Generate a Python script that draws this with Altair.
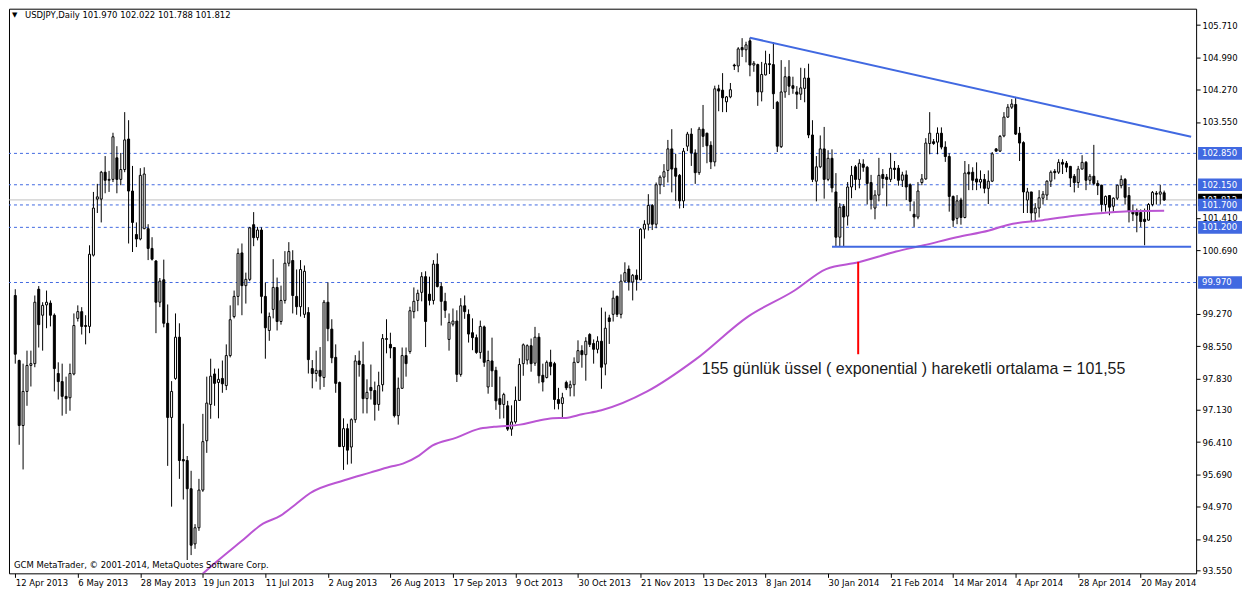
import altair as alt
import pandas as pd

# ---------------- data ----------------
opens = [
    99.68, 98.23, 96.78, 97.54, 98.12, 98.16, 99.82, 99.24, 99.47, 99.51,
    99.24, 97.94, 97.76, 97.43, 97.40, 97.93, 99.17, 99.32, 99.01, 98.99,
    100.58, 101.83, 101.83, 102.43, 102.25, 102.27, 102.75, 102.27, 102.49, 103.17,
    102.01, 101.04, 100.94, 101.17, 101.17, 100.73, 100.45, 99.53, 100.03, 99.06,
    96.96, 97.83, 98.75, 96.02, 96.00, 95.37, 94.14, 94.50, 95.34, 96.44,
    97.25, 97.93, 97.74, 97.83, 97.67, 98.34, 99.21, 99.66, 100.63, 99.90,
    100.04, 101.26, 100.97, 101.14, 99.66, 98.90, 99.37, 99.86, 99.10, 99.57,
    100.40, 100.46, 99.66, 99.43, 99.26, 99.30, 98.05, 97.94, 98.01, 97.85,
    99.53, 98.93, 98.30, 97.74, 96.31, 96.71, 96.30, 96.91, 98.22, 98.14,
    97.38, 97.63, 97.56, 97.25, 97.69, 98.70, 98.59, 98.52, 97.00, 97.61,
    98.34, 98.43, 99.32, 99.57, 99.75, 100.10, 99.71, 99.57, 100.38, 99.88,
    99.55, 98.70, 99.04, 99.11, 97.92, 99.45, 99.26, 98.85, 98.74, 98.41,
    98.98, 97.64, 98.22, 98.01, 97.38, 97.25, 97.22, 96.70, 96.86, 97.34,
    98.16, 98.24, 98.56, 98.17, 98.75, 97.90, 97.85, 98.19, 98.16, 97.36,
    97.27, 97.74, 97.62, 97.69, 98.19, 98.45, 98.36, 98.81, 98.61, 98.48,
    98.66, 98.15, 99.18, 99.26, 99.66, 99.26, 100.00, 100.27, 99.98, 100.13,
    100.03, 101.16, 101.27, 101.69, 101.27, 102.15, 102.32, 102.47, 102.95, 102.52,
    102.36, 101.79, 103.01, 103.28, 102.86, 102.42, 103.39, 103.30, 103.03, 102.66,
    104.29, 104.26, 104.00, 104.11, 104.82, 104.80, 105.21, 105.16, 105.36, 104.82,
    104.83, 104.22, 104.60, 104.85, 104.83, 103.99, 103.00, 104.22, 104.56, 104.36,
    104.22, 104.17, 104.30, 104.53, 103.26, 102.23, 102.55, 102.95, 102.27, 102.74,
    101.99, 100.98, 101.67, 101.45, 102.10, 102.55, 102.27, 102.61, 102.54, 102.20,
    101.63, 101.92, 102.38, 102.32, 102.27, 102.52, 102.52, 102.25, 102.37, 102.15,
    101.49, 101.43, 102.20, 102.28, 103.07, 103.11, 103.10, 103.30, 102.99, 102.78,
    101.89, 101.40, 101.81, 101.42, 102.43, 102.43, 102.28, 102.21, 102.27, 102.07,
    102.23, 102.95, 102.90, 103.24, 103.66, 103.88, 103.94, 103.30, 103.09, 101.81,
    101.99, 101.52, 101.63, 101.85, 101.92, 102.23, 102.45, 102.43, 102.65, 102.63,
    102.56, 102.34, 102.20, 102.50, 102.65, 102.25, 102.34, 102.18, 102.14, 101.71,
    101.91, 101.67, 101.85, 102.13, 102.27, 101.91, 101.56, 101.56, 101.53, 101.38,
    101.36, 101.71, 101.96, 101.94, 101.97,
]
highs = [
    99.82, 98.25, 98.16, 98.45, 98.45, 99.68, 99.89, 99.53, 99.79, 99.57,
    99.28, 98.19, 98.16, 97.87, 98.16, 99.28, 99.46, 99.42, 99.24, 100.80,
    101.99, 102.17, 102.46, 102.79, 102.46, 103.31, 103.01, 102.86, 103.77, 103.59,
    102.57, 101.31, 102.52, 102.54, 101.27, 100.98, 100.47, 100.07, 100.48, 99.48,
    97.77, 99.28, 99.06, 96.82, 96.10, 95.77, 94.58, 95.59, 97.04, 97.87,
    98.27, 98.05, 98.05, 98.23, 98.59, 99.46, 99.79, 100.73, 100.84, 100.19,
    101.21, 101.54, 101.21, 101.20, 99.97, 99.30, 100.49, 100.08, 99.90, 100.67,
    100.87, 100.69, 100.26, 100.47, 100.35, 99.42, 98.24, 98.45, 98.53, 99.58,
    99.97, 99.15, 98.59, 97.76, 96.94, 96.82, 96.94, 98.35, 98.45, 98.65,
    97.81, 98.14, 97.76, 97.98, 98.82, 99.15, 98.85, 98.53, 97.85, 98.52,
    98.52, 99.43, 99.86, 99.81, 100.20, 100.22, 100.10, 100.47, 100.62, 99.97,
    99.74, 99.28, 99.39, 99.35, 99.62, 99.68, 99.37, 99.17, 98.81, 99.12,
    99.01, 98.45, 98.74, 98.09, 97.87, 97.51, 97.33, 97.23, 97.65, 98.28,
    98.61, 98.59, 98.72, 98.98, 98.84, 98.16, 98.23, 98.47, 98.20, 97.62,
    97.51, 97.78, 97.78, 98.30, 98.68, 98.57, 98.75, 98.84, 98.70, 98.77,
    99.41, 99.32, 99.25, 99.79, 99.68, 100.15, 100.42, 100.35, 100.16, 100.26,
    101.18, 101.36, 101.94, 101.72, 102.20, 102.36, 102.61, 103.15, 103.39, 102.84,
    102.39, 102.97, 103.33, 103.41, 102.94, 103.44, 103.93, 103.31, 103.12, 104.36,
    104.38, 104.64, 104.13, 104.42, 104.85, 105.22, 105.42, 105.34, 105.43, 104.91,
    104.85, 104.89, 105.14, 105.07, 105.33, 104.02, 104.93, 104.78, 104.93, 104.56,
    104.35, 104.76, 104.75, 104.85, 103.59, 102.79, 103.25, 103.44, 102.92, 102.94,
    102.41, 101.74, 101.72, 102.21, 102.57, 102.59, 102.72, 102.72, 102.57, 102.37,
    102.03, 102.75, 102.50, 102.39, 102.86, 102.68, 102.59, 102.44, 102.47, 102.18,
    101.78, 102.21, 102.39, 103.19, 103.77, 103.17, 103.43, 103.43, 103.12, 102.85,
    101.91, 101.92, 101.86, 102.68, 102.61, 102.54, 102.65, 102.47, 102.39, 102.47,
    102.88, 102.97, 103.26, 103.77, 103.95, 104.06, 104.11, 103.44, 103.12, 102.08,
    101.99, 101.74, 102.03, 102.01, 102.25, 102.47, 102.50, 102.72, 102.72, 102.68,
    102.57, 102.39, 102.57, 102.81, 102.68, 102.39, 103.04, 102.25, 102.15, 101.91,
    101.92, 101.87, 102.15, 102.36, 102.30, 102.10, 101.71, 101.62, 101.60, 101.62,
    101.74, 102.01, 102.01, 102.15, 102.02,
]
lows = [
    98.16, 96.35, 95.80, 97.22, 97.65, 98.08, 98.52, 98.45, 98.95, 98.99,
    97.54, 97.36, 97.00, 97.04, 97.11, 97.90, 99.10, 98.81, 98.59, 98.84,
    100.55, 101.52, 101.31, 101.96, 101.99, 102.21, 101.96, 102.14, 102.43, 100.84,
    100.65, 100.76, 100.91, 101.16, 100.47, 100.46, 98.84, 99.42, 98.97, 95.88,
    94.97, 97.80, 95.59, 95.13, 93.78, 93.89, 94.03, 94.43, 95.30, 96.17,
    96.93, 97.22, 96.94, 97.51, 97.57, 98.30, 99.17, 99.46, 99.24, 99.50,
    100.00, 100.78, 100.91, 99.28, 98.27, 98.67, 99.17, 98.90, 99.03, 99.50,
    100.33, 99.28, 99.25, 99.21, 99.18, 97.94, 97.61, 97.76, 97.58, 97.64,
    98.66, 98.17, 97.51, 96.30, 95.79, 95.91, 95.93, 96.84, 97.87, 97.05,
    97.05, 97.36, 96.89, 97.11, 97.54, 98.39, 98.28, 96.96, 96.80, 97.60,
    97.87, 98.38, 99.17, 99.33, 99.55, 98.53, 99.46, 99.48, 99.86, 99.01,
    99.18, 98.45, 98.99, 97.75, 97.87, 99.16, 98.63, 98.46, 98.38, 98.27,
    98.09, 97.49, 97.64, 97.13, 96.93, 96.94, 96.66, 96.55, 96.82, 97.33,
    97.89, 98.14, 97.98, 98.11, 97.72, 97.54, 97.83, 97.90, 97.14, 97.14,
    96.94, 97.57, 97.43, 97.43, 98.17, 98.07, 97.78, 98.53, 98.16, 98.39,
    97.60, 97.90, 98.60, 99.10, 99.20, 99.17, 99.97, 99.79, 99.57, 99.79,
    100.03, 100.95, 101.13, 101.14, 101.18, 101.94, 102.10, 102.20, 101.98, 101.79,
    101.62, 101.63, 102.90, 102.57, 102.17, 102.37, 102.99, 102.63, 102.50, 102.56,
    103.79, 103.77, 103.77, 104.08, 104.71, 104.66, 105.00, 104.88, 104.57, 104.67,
    103.91, 104.01, 104.59, 104.62, 103.84, 102.88, 102.97, 104.09, 104.15, 104.18,
    103.84, 104.04, 103.99, 103.19, 102.21, 101.78, 102.52, 101.84, 102.23, 101.98,
    100.78, 100.78, 100.78, 101.24, 101.85, 102.03, 102.07, 102.44, 101.71, 101.60,
    101.38, 101.78, 102.07, 101.67, 102.21, 102.28, 102.13, 102.10, 101.81, 101.56,
    101.21, 101.38, 102.14, 102.26, 102.83, 103.04, 102.83, 102.94, 102.66, 101.55,
    101.21, 101.27, 101.26, 101.40, 102.03, 102.03, 102.03, 102.07, 101.96, 101.72,
    102.21, 102.89, 102.88, 103.21, 103.64, 103.84, 103.26, 102.68, 101.52, 101.52,
    101.34, 101.34, 101.42, 101.71, 101.81, 102.10, 102.27, 102.39, 102.39, 102.43,
    102.10, 101.98, 102.08, 102.49, 102.03, 102.15, 102.14, 101.92, 101.55, 101.55,
    101.47, 101.55, 101.81, 102.07, 101.71, 101.31, 101.34, 101.09, 101.21, 100.80,
    101.35, 101.67, 101.71, 101.71, 101.79,
]
closes = [
    98.37, 96.78, 97.54, 98.12, 98.16, 99.53, 99.03, 99.46, 99.53, 99.24,
    98.05, 97.76, 97.43, 97.38, 97.94, 99.01, 99.32, 98.99, 98.99, 100.60,
    101.63, 101.88, 102.43, 102.25, 102.27, 103.22, 102.27, 102.49, 103.15, 102.01,
    101.31, 100.94, 102.36, 102.39, 100.73, 100.49, 99.53, 100.00, 99.06, 96.96,
    97.54, 98.75, 96.00, 95.99, 95.37, 94.11, 94.50, 95.34, 96.42, 97.28,
    97.88, 97.72, 97.81, 97.71, 98.34, 99.14, 99.66, 100.62, 99.90, 100.04,
    101.19, 100.97, 101.14, 99.66, 98.96, 99.21, 99.86, 99.10, 99.57, 100.40,
    100.66, 99.68, 99.43, 100.26, 100.22, 98.25, 97.94, 98.01, 97.88, 99.53,
    98.94, 98.29, 97.72, 96.31, 96.71, 96.23, 96.91, 98.22, 98.14, 97.38,
    97.52, 97.56, 97.25, 97.67, 98.72, 98.72, 98.51, 97.00, 97.61, 98.34,
    98.16, 99.34, 99.55, 99.73, 100.10, 99.10, 99.57, 100.38, 99.88, 99.55,
    99.35, 99.08, 99.11, 97.92, 99.45, 99.32, 98.82, 98.74, 98.41, 98.99,
    98.19, 98.23, 98.00, 97.33, 97.25, 97.47, 96.70, 96.86, 97.34, 98.14,
    98.58, 98.56, 98.16, 98.75, 97.89, 97.75, 98.19, 98.10, 97.36, 97.27,
    97.40, 97.62, 97.69, 98.19, 98.45, 98.36, 98.66, 98.59, 98.48, 98.66,
    98.08, 98.95, 99.10, 99.62, 99.26, 100.00, 100.19, 99.98, 100.13, 100.04,
    101.16, 101.27, 101.69, 101.27, 102.15, 102.32, 102.44, 102.95, 102.50, 102.34,
    101.79, 102.90, 103.28, 102.86, 102.42, 103.39, 103.23, 103.02, 102.66, 104.29,
    104.24, 104.09, 104.11, 104.27, 104.80, 105.18, 105.16, 105.27, 104.82, 104.86,
    104.22, 104.61, 104.85, 104.83, 104.18, 103.01, 104.22, 104.56, 104.35, 104.30,
    104.17, 104.31, 104.53, 103.26, 102.27, 102.55, 102.95, 102.27, 102.74, 102.08,
    100.98, 101.65, 101.43, 102.10, 102.36, 102.27, 102.63, 102.54, 102.18, 101.82,
    101.92, 102.36, 102.29, 102.27, 102.52, 102.49, 102.25, 102.37, 102.10, 101.78,
    101.43, 102.01, 102.28, 103.08, 103.30, 103.07, 103.30, 102.99, 102.78, 101.89,
    101.36, 101.79, 101.42, 102.41, 102.39, 102.25, 102.21, 102.27, 102.07, 102.23,
    102.84, 102.90, 103.23, 103.66, 103.88, 103.95, 103.28, 103.08, 101.99, 101.99,
    101.52, 101.63, 101.86, 101.94, 102.23, 102.43, 102.42, 102.65, 102.61, 102.54,
    102.30, 102.20, 102.50, 102.65, 102.25, 102.34, 102.18, 102.13, 101.71, 101.89,
    101.65, 101.85, 102.14, 102.27, 101.87, 101.55, 101.50, 101.47, 101.33, 101.33,
    101.71, 101.98, 101.94, 101.99, 101.81,
]

# 155-period EMA (bar index, price)
ema_bars = [47, 49.2, 57.6, 63.4, 67.9, 71.7, 75.4, 84.2, 90.8, 95.9, 99.2, 103.3,
            106.7, 112.9, 118.4, 122.5, 129.2, 133.4, 137.5, 140.9, 145, 150, 161.7,
            174.2, 187.5, 199.2, 207.5, 215.8, 225.4, 232.5, 240.9, 249.2, 254.2,
            262.9, 270, 278.4, 285, 294]
ema_vals = [93.40, 93.57, 94.18, 94.59, 94.77, 95.02, 95.27, 95.56, 95.73, 95.86, 95.93,
            96.11, 96.33, 96.51, 96.70, 96.75, 96.80, 96.88, 96.94, 96.95, 97.03, 97.12,
            97.54, 98.26, 99.21, 99.78, 100.27, 100.42, 100.66, 100.80, 100.98, 101.13,
            101.26, 101.36, 101.45, 101.52, 101.56, 101.57]

hline_vals = [102.85, 102.15, 101.70, 101.20, 99.97]
hline_labels = ["102.850", "102.150", "101.700", "101.200", "99.970"]
bid_price = 101.812
bid_label = "101.812"
axis_ticks = [105.71, 104.99, 104.27, 103.55, 101.41, 100.69, 99.27, 98.55,
              97.83, 97.13, 96.41, 95.69, 94.97, 94.25, 93.55]
date_labels = ["12 Apr 2013", "6 May 2013", "28 May 2013", "19 Jun 2013", "11 Jul 2013",
               "2 Aug 2013", "26 Aug 2013", "17 Sep 2013", "9 Oct 2013", "30 Oct 2013",
               "21 Nov 2013", "13 Dec 2013", "8 Jan 2014", "30 Jan 2014", "21 Feb 2014",
               "14 Mar 2014", "4 Apr 2014", "28 Apr 2014", "20 May 2014"]
date_step = 16

trend_bars = [188, 300.9]
trend_vals = [105.43, 103.22]
support_bars = [209, 300.9]
support_vals = [100.77, 100.77]

marker_bar = [215.7]
marker_top = [100.43]
marker_bottom = [98.37]

note_text = "155 günlük üssel ( exponential ) hareketli ortalama = 101,55"
note_bar = [175.7]
note_price = [97.93]

header_text = "USDJPY,Daily  101.970 102.022 101.788 101.812"
copyright_text = "GCM MetaTrader, © 2001-2014, MetaQuotes Software Corp."

# ---------------- chart ----------------
W, H = 1190, 566
FONT = "DejaVu Sans"
FS = 8.5
BLUE = "#4169E1"

xs = alt.Scale(domain=[-0.33, 300.9], nice=False, zero=False)
ys = alt.Scale(domain=[93.483, 106.077], nice=False, zero=False)

n = min(len(opens), len(highs), len(lows), len(closes))
candles = pd.DataFrame({"bar": list(range(n)), "o": opens[:n], "h": highs[:n],
                        "l": lows[:n], "c": closes[:n]})

label_expr = "[" + ",".join("'%s'" % d for d in date_labels) + "][round(datum.value / %d)]" % date_step
XA = alt.Axis(orient="bottom", values=[i * date_step for i in range(len(date_labels))],
              labelExpr=label_expr, labelAlign="left", labelBaseline="top",
              tickSize=4, labelPadding=1, labelOverlap=False, labelFlush=False,
              title=None, domain=False, grid=False)
YA = alt.Axis(orient="right", values=axis_ticks, format=".3f", tickSize=4,
              labelPadding=2, labelOverlap=False, labelFlush=False,
              title=None, domain=False, grid=False)


def X(field):
    return alt.X(field, scale=xs, axis=XA)


def Y(field):
    return alt.Y(field, scale=ys, axis=YA)


hl_df = pd.DataFrame({"p": hline_vals})
hlines = alt.Chart(hl_df).mark_rule(color=BLUE, strokeWidth=1, strokeDash=[3, 3]).encode(
    y=Y("p:Q"))

bid = alt.Chart(pd.DataFrame({"p": [bid_price]})).mark_rule(color="#C0C0C0", strokeWidth=1).encode(
    y=Y("p:Q"))

wicks = alt.Chart(candles).mark_rule(color="black", strokeWidth=1, clip=True).encode(
    x=X("bar:Q"), y=Y("l:Q"), y2="h:Q")

bodies = alt.Chart(candles).mark_bar(size=2, stroke="black", strokeWidth=1, clip=True).encode(
    x=X("bar:Q"), y=Y("o:Q"), y2="c:Q",
    fill=alt.condition("datum.c >= datum.o", alt.value("white"), alt.value("black")))

ema = alt.Chart(pd.DataFrame({"bar": ema_bars, "p": ema_vals})).mark_line(
    color="#BA55D3", strokeWidth=2, clip=True, interpolate="monotone").encode(
    x=X("bar:Q"), y=Y("p:Q"))

tl_df = pd.DataFrame({"bar": trend_bars + support_bars, "p": trend_vals + support_vals,
                      "g": ["res", "res", "sup", "sup"]})
trends = alt.Chart(tl_df).mark_line(color=BLUE, strokeWidth=2, clip=True).encode(
    x=X("bar:Q"), y=Y("p:Q"), detail="g:N")

marker = alt.Chart(pd.DataFrame({"bar": marker_bar, "t": marker_top, "b": marker_bottom})).mark_rule(
    color="#FF0000", strokeWidth=2).encode(
    x=X("bar:Q"), y=Y("t:Q"), y2="b:Q")

note = alt.Chart(pd.DataFrame({"bar": note_bar, "p": note_price, "t": [note_text]})).mark_text(
    align="left", baseline="alphabetic", font="Liberation Sans", fontSize=16, color="#1a1a1a").encode(
    x=X("bar:Q"), y=Y("p:Q"), text="t:N")

tri = alt.Chart(pd.DataFrame({"t": ["▼"]})).mark_text(
    align="left", baseline="middle", font=FONT, fontSize=7, color="black").encode(
    x=alt.value(3), y=alt.value(6), text="t:N")
header = alt.Chart(pd.DataFrame({"t": [header_text]})).mark_text(
    align="left", baseline="middle", font=FONT, fontSize=FS, color="black").encode(
    x=alt.value(16), y=alt.value(6), text="t:N")
copyr = alt.Chart(pd.DataFrame({"t": [copyright_text]})).mark_text(
    align="left", baseline="middle", font=FONT, fontSize=FS, color="black").encode(
    x=alt.value(5), y=alt.value(H - 8), text="t:N")

HALF = 0.14
bid_df = pd.DataFrame({"p": [bid_price], "lab": [bid_label]})
bid_box = alt.Chart(bid_df).transform_calculate(
    pt="datum.p + %f" % HALF, pb="datum.p - %f" % HALF).mark_rect(color="black").encode(
    x=alt.value(W + 2), x2=alt.value(W + 46), y=Y("pt:Q"), y2="pb:Q")
bid_txt = alt.Chart(bid_df).mark_text(align="left", baseline="middle", font=FONT,
                                      fontSize=FS, color="white").encode(
    x=alt.value(W + 6), y=Y("p:Q"), text="lab:N")

box_df = pd.DataFrame({"p": hline_vals, "lab": hline_labels})
boxes = alt.Chart(box_df).transform_calculate(
    pt="datum.p + %f" % HALF, pb="datum.p - %f" % HALF).mark_rect(color=BLUE).encode(
    x=alt.value(W + 2), x2=alt.value(W + 46), y=Y("pt:Q"), y2="pb:Q")
box_txt = alt.Chart(box_df).mark_text(align="left", baseline="middle", font=FONT,
                                      fontSize=FS, color="white").encode(
    x=alt.value(W + 6), y=Y("p:Q"), text="lab:N")

chart = alt.layer(
    hlines, bid, wicks, bodies, ema, trends, marker, note, tri, header, copyr,
    bid_box, bid_txt, boxes, box_txt
).properties(
    width=W, height=H, padding=0, background="white"
).configure_view(
    stroke="black", strokeWidth=1
).configure_axis(
    labelFont=FONT, labelFontSize=FS, labelColor="black", tickColor="black"
)

chart.save("out.html", embed_options={"renderer": "svg", "actions": False})
